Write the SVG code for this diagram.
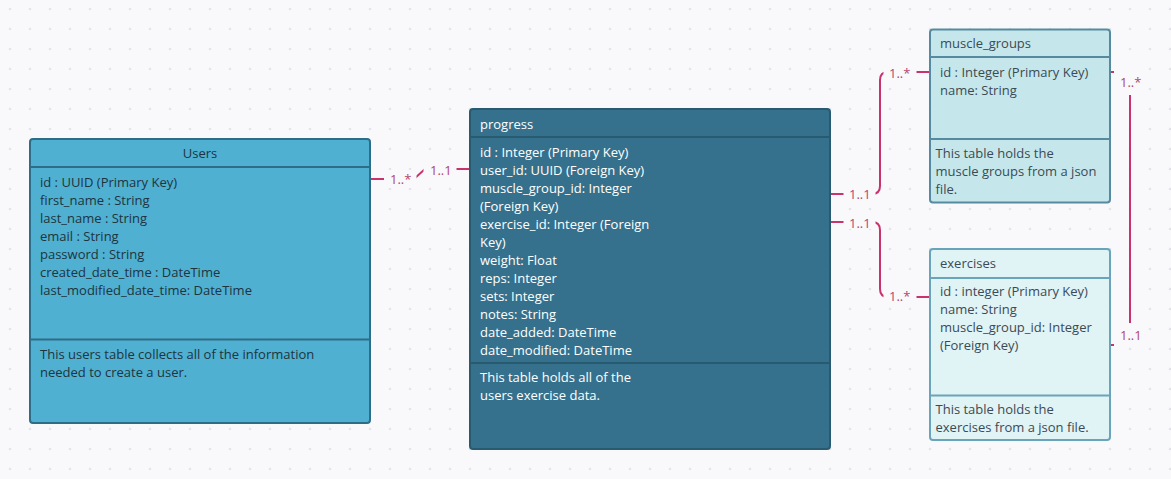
<svg xmlns="http://www.w3.org/2000/svg" width="1171" height="479" viewBox="0 0 1171 479">
<defs>
<pattern id="dots" x="0" y="-1" width="20" height="20" patternUnits="userSpaceOnUse">
<circle cx="10" cy="10" r="1.3" fill="#e3e4e9"/>
</pattern>
<style>
text{font-family:"Open Sans","Noto Sans","Liberation Sans",sans-serif;font-size:13px}
.dk{fill:#1e3441}
.wh{fill:#ffffff}
.gr{fill:#3b4a55}
.lbl{fill:#b0466f;font-size:13px}
.conn{fill:none;stroke:#c8336e;stroke-width:2}
.mask{fill:#f9f9fb}
</style>
</defs>
<rect width="1171" height="479" fill="#f9f9fb"/>
<rect width="1171" height="479" fill="url(#dots)"/>

<g id="connectors">
<path class="conn" d="M370,179 H414 L425,169 H470"/>
<path class="conn" d="M830,194 H872 Q880,194 880,186 V80 Q880,72 888,72 H930"/>
<path class="conn" d="M830,222 H872 Q880,222 880,230 V289 Q880,297 888,297 H930"/>
<path class="conn" d="M1110,72 H1130 V345 H1110"/>
<rect class="mask" x="384" y="170" width="32.5" height="18"/>
<text class="lbl" x="390" y="184">1..*</text>
<rect class="mask" x="423.5" y="160" width="33" height="18"/>
<text class="lbl" x="430" y="174.5">1..1</text>
<rect class="mask" x="843.5" y="185" width="32" height="16"/>
<text class="lbl" x="849" y="198.5">1..1</text>
<rect class="mask" x="883.5" y="64" width="33" height="16"/>
<text class="lbl" x="889" y="78">1..*</text>
<rect class="mask" x="843.5" y="213" width="32" height="16"/>
<text class="lbl" x="849" y="227.5">1..1</text>
<rect class="mask" x="883.5" y="288" width="33" height="16"/>
<text class="lbl" x="889" y="301">1..*</text>
<rect class="mask" x="1114" y="67" width="32" height="28"/>
<text class="lbl" x="1120" y="87">1..*</text>
<rect class="mask" x="1114" y="323" width="32" height="24"/>
<text class="lbl" x="1120" y="340">1..1</text>
</g>

<g id="users">
<rect x="30" y="139" width="340" height="284" rx="3" fill="#4fb0d1" stroke="#2e6d88" stroke-width="2"/>
<line x1="30" y1="167" x2="370" y2="167" stroke="#2e6d88" stroke-width="2"/>
<line x1="30" y1="339.5" x2="370" y2="339.5" stroke="#2e6d88" stroke-width="2"/>
<text class="dk" x="200" y="158" text-anchor="middle">Users</text>
<text class="dk" x="40" y="186.5">id : UUID (Primary Key)</text>
<text class="dk" x="40" y="204.5">first_name : String</text>
<text class="dk" x="40" y="222.5">last_name : String</text>
<text class="dk" x="40" y="240.5">email : String</text>
<text class="dk" x="40" y="258.5">password : String</text>
<text class="dk" x="40" y="276.5">created_date_time : DateTime</text>
<text class="dk" x="40" y="294.5">last_modified_date_time: DateTime</text>
<text class="dk" x="40" y="358.5">This users table collects all of the information</text>
<text class="dk" x="40" y="376.5">needed to create a user.</text>
</g>

<g id="progress">
<rect x="470" y="109" width="360" height="340" rx="3" fill="#35718c" stroke="#285a70" stroke-width="2"/>
<line x1="470" y1="137" x2="830" y2="137" stroke="#285a70" stroke-width="2"/>
<line x1="470" y1="363" x2="830" y2="363" stroke="#285a70" stroke-width="2"/>
<text class="wh" x="480" y="128.5">progress</text>
<text class="wh" x="480" y="156.5">id : Integer (Primary Key)</text>
<text class="wh" x="480" y="174.5">user_id: UUID (Foreign Key)</text>
<text class="wh" x="480" y="192.5">muscle_group_id: Integer</text>
<text class="wh" x="480" y="210.5">(Foreign Key)</text>
<text class="wh" x="480" y="228.5">exercise_id: Integer (Foreign</text>
<text class="wh" x="480" y="246.5">Key)</text>
<text class="wh" x="480" y="264.5">weight: Float</text>
<text class="wh" x="480" y="282.5">reps: Integer</text>
<text class="wh" x="480" y="300.5">sets: Integer</text>
<text class="wh" x="480" y="318.5">notes: String</text>
<text class="wh" x="480" y="336.5">date_added: DateTime</text>
<text class="wh" x="480" y="354.5">date_modified: DateTime</text>
<text class="wh" x="480" y="382">This table holds all of the</text>
<text class="wh" x="480" y="400">users exercise data.</text>
</g>

<g id="muscle_groups">
<rect x="930" y="29.5" width="180" height="173" rx="3" fill="#c5e7eb" stroke="#568aa0" stroke-width="2"/>
<line x1="930" y1="57" x2="1110" y2="57" stroke="#568aa0" stroke-width="2"/>
<line x1="930" y1="139" x2="1110" y2="139" stroke="#568aa0" stroke-width="2"/>
<text class="gr" x="940" y="48">muscle_groups</text>
<text class="gr" x="940" y="76.5">id : Integer (Primary Key)</text>
<text class="gr" x="940" y="94.5">name: String</text>
<text class="gr" x="935.5" y="158">This table holds the</text>
<text class="gr" x="935.5" y="176">muscle groups from a json</text>
<text class="gr" x="935.5" y="194">file.</text>
</g>

<g id="exercises">
<rect x="930" y="249" width="180" height="191" rx="3" fill="#e0f3f5" stroke="#6aa4ba" stroke-width="2"/>
<line x1="930" y1="278" x2="1110" y2="278" stroke="#6aa4ba" stroke-width="2"/>
<line x1="930" y1="395.5" x2="1110" y2="395.5" stroke="#6aa4ba" stroke-width="2"/>
<text class="gr" x="940" y="268">exercises</text>
<text class="gr" x="940" y="296">id : integer (Primary Key)</text>
<text class="gr" x="940" y="314">name: String</text>
<text class="gr" x="940" y="332">muscle_group_id: Integer</text>
<text class="gr" x="940" y="350">(Foreign Key)</text>
<text class="gr" x="935.5" y="414">This table holds the</text>
<text class="gr" x="935.5" y="432">exercises from a json file.</text>
</g>
</svg>
